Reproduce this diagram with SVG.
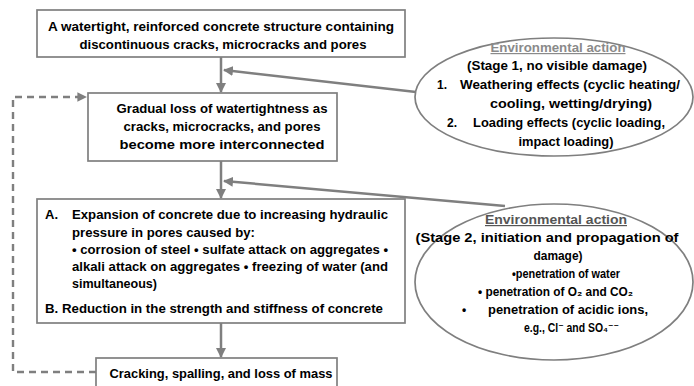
<svg xmlns="http://www.w3.org/2000/svg" width="694" height="386" viewBox="0 0 694 386">
<defs>
<marker id="arr" viewBox="0 0 10 10" refX="9" refY="5" markerWidth="4" markerHeight="4" orient="auto" markerUnits="strokeWidth">
<path d="M0,0 L10,5 L0,10 z" fill="#7f7f7f"/>
</marker>
</defs>
<style>
.box{fill:#fff;stroke:#7f7f7f;stroke-width:1.7}
.ell{fill:#fff;stroke:#7f7f7f;stroke-width:1.7}
.t{font-family:"Liberation Sans",Arial,sans-serif;font-weight:bold;font-size:13px;fill:#000}
.e{font-family:"Liberation Sans","DejaVu Sans",Arial,sans-serif;font-weight:bold;font-size:12px;fill:#000}
.c{text-anchor:middle}
.h1{fill:#8a8a8a;text-decoration:underline}
.h2{fill:#555;text-decoration:underline}
.ln{fill:none;stroke:#7f7f7f;stroke-width:2.5}
.dash{fill:none;stroke:#7f7f7f;stroke-width:2.4;stroke-dasharray:7,5}
</style>
<rect width="694" height="386" fill="#fff"/>
<g id="connectors">
<path class="ln" d="M221,57 L221,92" marker-end="url(#arr)"/>
<path class="ln" d="M416,92 L224,70" marker-end="url(#arr)"/>
<path class="ln" d="M221,161 L221,198" marker-end="url(#arr)"/>
<path class="ln" d="M505,206 L224,181" marker-end="url(#arr)"/>
<path class="ln" d="M221,323 L221,357" marker-end="url(#arr)"/>
<path class="dash" d="M96,372 L13,372 L13,97 L86,97" marker-end="url(#arr)"/>
</g>
<g id="box1">
<rect class="box" x="37" y="10" width="368" height="47"/>
<text class="t c" x="221" y="31" textLength="346" lengthAdjust="spacingAndGlyphs">A watertight, reinforced concrete structure containing</text>
<text class="t c" x="223" y="49" textLength="287" lengthAdjust="spacingAndGlyphs">discontinuous cracks, microcracks and pores</text>
</g>
<g id="box2">
<rect class="box" x="88" y="93" width="249" height="68"/>
<text class="t c" x="222" y="113" textLength="211" lengthAdjust="spacingAndGlyphs">Gradual loss of watertightness as</text>
<text class="t c" x="222" y="131" textLength="197" lengthAdjust="spacingAndGlyphs">cracks, microcracks, and pores</text>
<text class="t c" x="222" y="149" textLength="205" lengthAdjust="spacingAndGlyphs">become more interconnected</text>
</g>
<g id="box3">
<rect class="box" x="37" y="199" width="368" height="124"/>
<text class="t" x="45" y="219">A.</text>
<text class="t" x="72" y="219" textLength="316" lengthAdjust="spacingAndGlyphs">Expansion of concrete due to increasing hydraulic</text>
<text class="t" x="72" y="237" textLength="183" lengthAdjust="spacingAndGlyphs">pressure in pores caused by:</text>
<text class="t" x="72" y="254" textLength="316" lengthAdjust="spacingAndGlyphs">• corrosion of steel • sulfate attack on aggregates •</text>
<text class="t" x="72" y="271" textLength="316" lengthAdjust="spacingAndGlyphs">alkali attack on aggregates • freezing of water (and</text>
<text class="t" x="72" y="288" textLength="85" lengthAdjust="spacingAndGlyphs">simultaneous)</text>
<text class="t" x="45" y="313" textLength="338" lengthAdjust="spacingAndGlyphs">B. Reduction in the strength and stiffness of concrete</text>
</g>
<g id="box4">
<rect class="box" x="96" y="358" width="241" height="30"/>
<text class="t c" x="221" y="378" textLength="223" lengthAdjust="spacingAndGlyphs">Cracking, spalling, and loss of mass</text>
</g>
<g id="env1">
<ellipse class="ell" cx="554" cy="97" rx="139" ry="59"/>
<text class="e c h1" x="558" y="52" textLength="135" lengthAdjust="spacingAndGlyphs">Environmental action</text>
<text class="e c" x="557" y="70" textLength="180" lengthAdjust="spacingAndGlyphs">(Stage 1, no visible damage)</text>
<text class="e" x="437" y="89">1.</text>
<text class="e" x="460" y="89" textLength="220" lengthAdjust="spacingAndGlyphs">Weathering effects (cyclic heating/</text>
<text class="e c" x="571" y="108" textLength="162" lengthAdjust="spacingAndGlyphs">cooling, wetting/drying)</text>
<text class="e" x="447" y="127">2.</text>
<text class="e" x="473" y="127" textLength="192" lengthAdjust="spacingAndGlyphs">Loading effects (cyclic loading,</text>
<text class="e c" x="566" y="146" textLength="95" lengthAdjust="spacingAndGlyphs">impact loading)</text>
</g>
<g id="env2">
<ellipse class="ell" cx="554" cy="282" rx="139" ry="78"/>
<text class="e c h2" x="556" y="224" textLength="142" lengthAdjust="spacingAndGlyphs">Environmental action</text>
<text class="e c" x="547" y="242" textLength="263" lengthAdjust="spacingAndGlyphs">(Stage 2, initiation and propagation of</text>
<text class="e c" x="558" y="260" textLength="49" lengthAdjust="spacingAndGlyphs">damage)</text>
<text class="e c" x="566" y="278" textLength="108" lengthAdjust="spacingAndGlyphs">•penetration of water</text>
<text class="e" x="478" y="296" textLength="155" lengthAdjust="spacingAndGlyphs">• penetration of O₂ and CO₂</text>
<text class="e" x="462" y="314">•</text>
<text class="e" x="488" y="314" textLength="160" lengthAdjust="spacingAndGlyphs">penetration of acidic ions,</text>
<text class="e" x="524" y="332" textLength="95" lengthAdjust="spacingAndGlyphs">e.g., Cl⁻ and SO₄⁻⁻</text>
</g>
</svg>
